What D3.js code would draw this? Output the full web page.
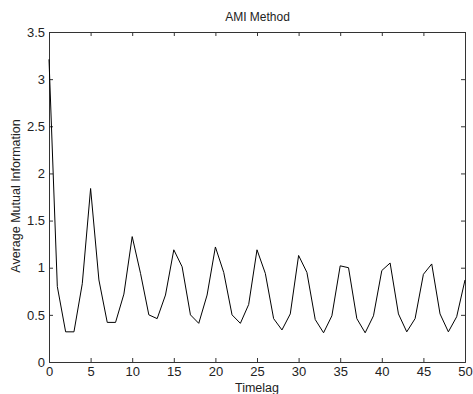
<!DOCTYPE html>
<html>
<head>
<meta charset="utf-8">
<script src="https://cdn.jsdelivr.net/npm/d3@7"></script>
<style>
  body { margin: 0; background: #fff; }
  text { font-family: "Liberation Sans", Arial, sans-serif; fill: #222; }
</style>
</head>
<body>
<svg width="473" height="394"></svg>
<script>
const lags = d3.range(0, 51);
const ami = [3.21, 0.80, 0.32, 0.32, 0.83, 1.84, 0.87, 0.42, 0.42, 0.72,
  1.33, 0.94, 0.50, 0.46, 0.71, 1.19, 1.01, 0.50, 0.41, 0.71,
  1.22, 0.95, 0.50, 0.41, 0.61, 1.19, 0.94, 0.46, 0.34, 0.51,
  1.13, 0.95, 0.45, 0.31, 0.49, 1.02, 1.00, 0.46, 0.31, 0.49,
  0.97, 1.05, 0.51, 0.32, 0.46, 0.93, 1.04, 0.51, 0.32, 0.48,
  0.87];
const xTicks = [0, 5, 10, 15, 20, 25, 30, 35, 40, 45, 50];
const yTicks = [0, 0.5, 1, 1.5, 2, 2.5, 3, 3.5];

const svg = d3.select('svg');
const margin = { top: 32, right: 8, bottom: 32, left: 49 };
const width = +svg.attr('width');
const height = +svg.attr('height');
const innerWidth = width - margin.left - margin.right;
const innerHeight = height - margin.top - margin.bottom;

const xScale = d3.scaleLinear().domain([0, 50]).range([0, innerWidth]);
const yScale = d3.scaleLinear().domain([0, 3.5]).range([innerHeight, 0]);

const g = svg.append('g')
  .attr('transform', `translate(${margin.left}, ${margin.top})`);

// inward ticks, matlab style
const xAxis = g.append('g')
  .attr('transform', `translate(0, ${innerHeight})`)
  .call(d3.axisBottom(xScale).tickValues(xTicks).tickSize(-4).tickPadding(5));
const xTop = g.append('g')
  .call(d3.axisTop(xScale).tickValues(xTicks).tickSize(-4).tickFormat(''));
const yAxis = g.append('g')
  .call(d3.axisLeft(yScale).tickValues(yTicks).tickSize(-4).tickPadding(4)
    .tickFormat(d3.format('')));
const yRight = g.append('g')
  .attr('transform', `translate(${innerWidth}, 0)`)
  .call(d3.axisRight(yScale).tickValues(yTicks).tickSize(-4).tickFormat(''));

[xAxis, xTop, yAxis, yRight].forEach(a => {
  a.selectAll('.domain').attr('stroke', '#333');
  a.selectAll('line').attr('stroke', '#333');
  a.selectAll('text').style('font-size', '13px').attr('fill', '#333');
});

const line = d3.line()
  .x((d, i) => xScale(lags[i]))
  .y(d => yScale(d));

g.append('path')
  .attr('d', line(ami))
  .attr('fill', 'none')
  .attr('stroke', '#000')
  .attr('stroke-width', 1);

svg.append('text')
  .attr('x', margin.left + innerWidth / 2 + 0.5)
  .attr('y', 21)
  .attr('text-anchor', 'middle')
  .style('font-size', '12px')
  .text('AMI Method');

svg.append('text')
  .attr('x', margin.left + innerWidth / 2)
  .attr('y', 392)
  .attr('text-anchor', 'middle')
  .style('font-size', '12.5px')
  .text('Timelag');

svg.append('text')
  .attr('transform', `translate(20, ${margin.top + innerHeight / 2 - 1}) rotate(-90)`)
  .attr('text-anchor', 'middle')
  .style('font-size', '12.5px')
  .text('Average Mutual Information');
</script>
</body>
</html>
